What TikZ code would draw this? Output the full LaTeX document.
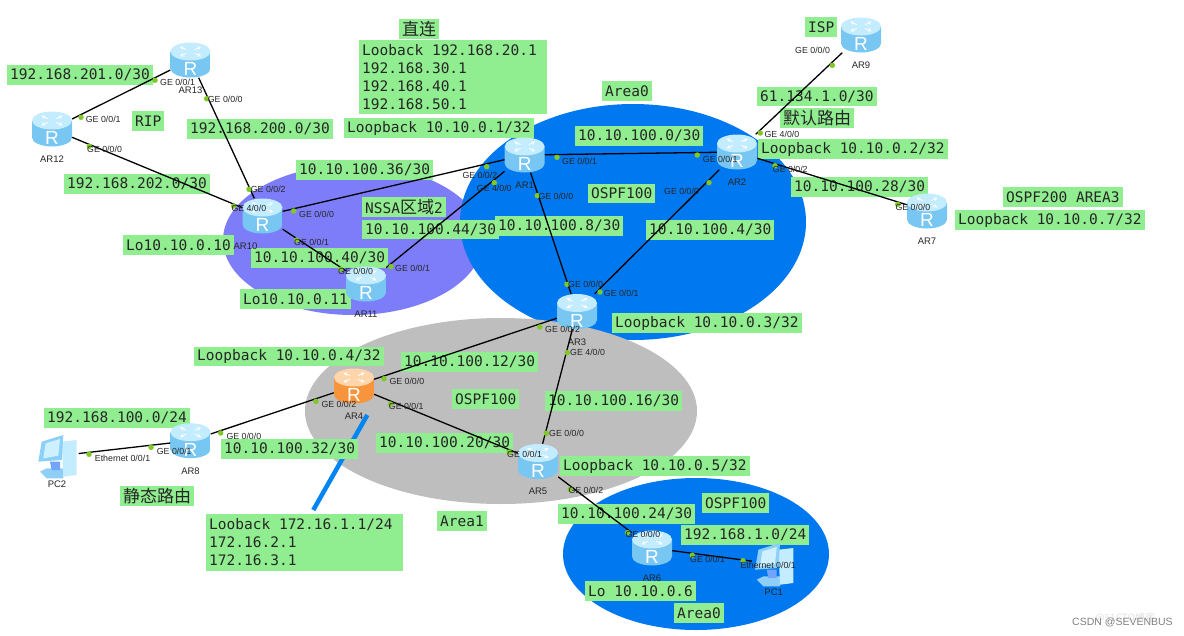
\documentclass[tikz,border=0pt]{standalone}
\usepackage{fontspec}
\setmainfont{Liberation Sans}
\newfontfamily\monofam{DejaVu Sans Mono}
\newfontfamily\cjk{Noto Sans CJK SC}
\definecolor{tagbg}{HTML}{90EE90}
\definecolor{areablue}{HTML}{0078F0}
\definecolor{areapurple}{HTML}{7D7DFA}
\definecolor{areagray}{HTML}{BEBEBE}
\definecolor{portdot}{HTML}{7FC828}
\definecolor{blueside}{HTML}{78C6F2}
\definecolor{bluemid}{HTML}{CBEFFF}
\definecolor{bluetop}{HTML}{C3ECFF}
\definecolor{orangeside}{HTML}{F8953C}
\definecolor{orangemid}{HTML}{FFD09B}
\definecolor{orangetop}{HTML}{FFD5AC}
\definecolor{pcbase}{HTML}{8FCFF7}
\definecolor{pctower}{HTML}{C4ECFF}
\definecolor{pcframe}{HTML}{8CD0FA}
\definecolor{pcscreen}{HTML}{CFF1FF}
% --- cylinder of a router, args: x,y / side / middle / top colour
\newcommand{\routerdraw}[4]{
\begin{scope}[shift={(#1)},x=1pt,y=-1pt]
\shade[left color=#2,middle color=#3,right color=#2] (-20,-8.5) -- (-20,8.5) arc[start angle=180,end angle=360,x radius=20pt,y radius=9pt] -- (20,-8.5) -- cycle;
\fill[#4] (0,-8.5) ellipse [x radius=20pt,y radius=9pt];
\foreach \ang in {45,135,225,315}{
\draw[white,line width=0.8pt,->,>=stealth] ({6*cos(\ang)},{-8.5+2.7*sin(\ang)}) -- ({15*cos(\ang)},{-8.5+6.8*sin(\ang)});
}
\end{scope}
}
\newcommand{\bluerouter}[1]{\routerdraw{#1}{blueside}{bluemid}{bluetop}}
\newcommand{\pcdraw}[1]{
\begin{scope}[shift={(#1)},x=1pt,y=1pt]
\fill[pcbase] (-17,-15.7) -- (-10.3,-12.3) -- (6.3,-12.3) -- (6.3,-22.3) -- (-10.3,-22.3) -- cycle;
\fill[pcbase!80!blue] (-7,-5.7) -- (3,-5.7) -- (3,-14) -- (-5.3,-14) -- cycle;
\fill[pctower] (4.7,14.3) -- (19.7,16) -- (19.7,-19) -- (6.3,-20.7) -- cycle;
\fill[pcframe] (-18.7,-5.7) -- (-15.3,14.3) -- (6.3,21) -- (4.7,-4) -- cycle;
\fill[pcscreen] (-13.7,-2.3) -- (-11.3,12.7) -- (3,17) -- (1.3,0.3) -- cycle;
\end{scope}
}
\tikzset{
tag/.style={fill=tagbg,anchor=west,font=\monofam\fontsize{14.5}{18}\selectfont,inner xsep=3pt,inner ysep=0pt,minimum height=19.5pt,align=left,text=black!85},
router/.style={inner sep=0pt,text=white,font=\fontsize{19}{19}\selectfont,text height=31pt,text depth=0pt,minimum width=40pt,minimum height=35pt},
pcbox/.style={inner sep=0pt,minimum width=43pt,minimum height=42pt},
devname/.style={font=\fontsize{9.5}{10}\selectfont,inner sep=0pt,label distance=9pt,text=black!85},
link/.style={line width=1.3pt,black},
dot/.style={circle,fill=portdot,inner sep=0pt,minimum size=5.5pt},
porttag/.style={font=\fontsize{8.8}{9}\selectfont,anchor=west,inner sep=0pt,text=black!85}
}
\begin{document}
\begin{tikzpicture}[x=1pt,y=-1pt]
\useasboundingbox (0,0) rectangle (1184,635);
% --- areas
\fill[areapurple] (353,240) ellipse [x radius=130pt,y radius=75pt];
\fill[areablue] (633,222) ellipse [x radius=173pt,y radius=118pt];
\fill[areagray] (501,411) ellipse [x radius=196pt,y radius=93pt];
\fill[areablue] (696,554) ellipse [x radius=133pt,y radius=76pt];
% --- loopback bar of AR4
\coordinate (lo4top) at (367.3,415);
\coordinate (lo4end) at (313.3,510);
\draw[line width=4.5pt,color=areablue!90!cyan] (lo4top) -- (lo4end);
% --- green address tags
\node[tag] (tdirect) at (399,29) {\cjk\fontsize{17}{18}\selectfont 直连};
\node[tag,minimum height=74pt] (tlobig) at (359,77) {\makebox[182pt][l]{Looback 192.168.20.1}\\192.168.30.1\\192.168.40.1\\192.168.50.1};
\node[tag] (tnet201) at (7,75) {192.168.201.0/30};
\node[tag] (trip) at (132,121) {RIP};
\node[tag] (tnet200) at (187,129) {192.168.200.0/30};
\node[tag] (tlo1) at (344,128) {Loopback 10.10.0.1/32};
\node[tag] (tnet202) at (64,184) {192.168.202.0/30};
\node[tag] (tnet36) at (296,170) {10.10.100.36/30};
\node[tag] (tnssa) at (362,207) {NSSA{\cjk\fontsize{17}{18}\selectfont 区域}2};
\node[tag] (tnet44) at (362,229.5) {10.10.100.44/30};
\node[tag] (tlo10) at (123,245) {Lo10.10.0.10};
\node[tag] (tnet40) at (251,258) {10.10.100.40/30};
\node[tag] (tlo11) at (240,299) {Lo10.10.0.11};
\node[tag] (tarea0) at (602,91) {Area0};
\node[tag] (tnet0) at (575,136) {10.10.100.0/30};
\node[tag] (tospf) at (588,193.5) {OSPF100};
\node[tag] (tnet8) at (495,226) {10.10.100.8/30};
\node[tag] (tnet4) at (646,230) {10.10.100.4/30};
\node[tag] (tisp) at (805,27) {ISP};
\node[tag] (tnet61) at (757,96.5) {61.134.1.0/30};
\node[tag] (tdefault) at (780,118) {\cjk\fontsize{17}{18}\selectfont 默认路由};
\node[tag] (tlo2) at (758,149) {Loopback 10.10.0.2/32};
\node[tag] (tnet28) at (791,187) {10.10.100.28/30};
\node[tag] (tospf200) at (1003,197) {OSPF200 AREA3};
\node[tag] (tlo7) at (955,220) {Loopback 10.10.0.7/32};
\node[tag] (tlo4) at (194,356.5) {Loopback 10.10.0.4/32};
\node[tag] (tnet12) at (401,362) {10.10.100.12/30};
\node[tag] (tospfb) at (452,399) {OSPF100};
\node[tag] (tnet100) at (44,418) {192.168.100.0/24};
\node[tag] (tnet32) at (221,449) {10.10.100.32/30};
\node[tag] (tnet20) at (376,443) {10.10.100.20/30};
\node[tag] (tstatic) at (120,496) {\cjk\fontsize{17}{18}\selectfont 静态路由};
\node[tag,minimum height=56.5pt] (tlo172) at (206,542.5) {\makebox[191pt][l]{Looback 172.16.1.1/24}\\172.16.2.1\\172.16.3.1};
\node[tag] (tarea1) at (437,521) {Area1};
\node[tag] (tlo3) at (612,323) {Loopback 10.10.0.3/32};
\node[tag] (tnet16) at (545,401) {10.10.100.16/30};
\node[tag] (tlo5) at (560,466) {Loopback 10.10.0.5/32};
\node[tag] (tospfc) at (702,503) {OSPF100};
\node[tag] (tnet24) at (558,514) {10.10.100.24/30};
\node[tag] (tnet1) at (681,535) {192.168.1.0/24};
\node[tag] (tlo6) at (585,591) {Lo 10.10.0.6};
\node[tag] (tarea0b) at (674,613) {Area0};
% --- routers and PCs
\bluerouter{190.5,60}
\node[router,label={[devname]below:AR13}] (AR13) at (190.5,60) {R};
\bluerouter{52,129}
\node[router,label={[devname]below:AR12}] (AR12) at (52,129) {R};
\bluerouter{262.5,216}
\node[router,label={[devname,xshift=-17pt]below:AR10}] (AR10) at (262.5,216) {R};
\bluerouter{366,284}
\node[router,label={[devname]below:AR11}] (AR11) at (366,284) {R};
\bluerouter{524.7,155}
\node[router,label={[devname]below:AR1}] (AR1) at (524.7,155) {R};
\bluerouter{737,152}
\node[router,label={[devname]below:AR2}] (AR2) at (737,152) {R};
\bluerouter{861,35}
\node[router,label={[devname]below:AR9}] (AR9) at (861,35) {R};
\bluerouter{927,211}
\node[router,label={[devname]below:AR7}] (AR7) at (927,211) {R};
\bluerouter{577,311.5}
\node[router,label={[devname]below:AR3}] (AR3) at (577,311.5) {R};
\routerdraw{354,386}{orangeside}{orangemid}{orangetop}
\node[router,label={[devname]below:AR4}] (AR4) at (354,386) {R};
\bluerouter{190.5,440.7}
\node[router,label={[devname]below:AR8}] (AR8) at (190.5,440.7) {R};
\bluerouter{538,461.5}
\node[router,label={[devname]below:AR5}] (AR5) at (538,461.5) {R};
\bluerouter{652,548}
\node[router,label={[devname]below:AR6}] (AR6) at (652,548) {R};
\pcdraw{57,456}
\node[pcbox,label={[devname,label distance=3pt]below:PC2}] (PC2) at (57,456) {};
\pcdraw{773.7,564}
\node[pcbox,label={[devname,label distance=3pt]below:PC1}] (PC1) at (773.7,564) {};
% --- links
\foreach \a/\b in {AR12/AR13,AR12/AR10,AR13/AR10,AR10/AR1,AR10/AR11,AR11/AR1,AR1/AR2,AR1/AR3,AR2/AR3,AR2/AR9,AR2/AR7,AR3/AR4,AR3/AR5,AR4/AR8,AR4/AR5,AR8/PC2,AR5/AR6,AR6/PC1}{
\draw[link] (\a) -- (\b);
}
% --- port dots and port names: dot x/y, text x/y, text
\foreach \dx/\dy/\tx/\ty/\ptxt [count=\i] in {
155/80.3/160/82.7/{GE 0/0/1},206.7/98.7/207.7/99.3/{GE 0/0/0},
81/117.3/85.7/119.3/{GE 0/0/1},89.3/146.3/87/149/{GE 0/0/0},
249/189.3/250.7/189.3/{GE 0/0/2},233.7/206/231.3/208.7/{GE 4/0/0},
293.7/211/299/214.3/{GE 0/0/0},296.7/240/294/242.7/{GE 0/0/1},
340.7/269.3/338/271.7/{GE 0/0/0},391/266.7/395/268.3/{GE 0/0/1},
486.7/166.7/462.3/175.7/{GE 0/0/2},494.3/182.7/476.7/188.7/{GE 4/0/0},
557/157.3/562/161.7/{GE 0/0/1},537.3/195.7/538.3/196.3/{GE 0/0/0},
697.3/155/702.7/159.3/{GE 0/0/1},709/182.7/664/191.3/{GE 0/0/0},
760.3/133/764.3/134.3/{GE 4/0/0},775/165.7/772.7/169.7/{GE 0/0/2},
832.3/65.3/795/50.7/{GE 0/0/0},897.7/204.3/895.3/207.7/{GE 0/0/0},
567/284.3/568/284.7/{GE 0/0/0},600/292/603.7/293/{GE 0/0/1},
539.7/327/545/329.7/{GE 0/0/2},567.3/352.7/570/352.7/{GE 4/0/0},
384/378.7/389.3/381.7/{GE 0/0/0},390.7/404/388.7/406.7/{GE 0/0/1},
316/401.3/321.3/404/{GE 0/0/2},220.7/433/226.3/436.3/{GE 0/0/0},
151/447.3/156.7/451.3/{GE 0/0/1},89/454.3/94.7/458/{Ethernet 0/0/1},
546.3/433.3/549/433.7/{GE 0/0/0},509.3/452/507/454.7/{GE 0/0/1},
570.3/489.3/568.3/490.3/{GE 0/0/2},627.7/532.7/625.3/534/{GE 0/0/0},
692.3/555.3/690/559.3/{GE 0/0/1},743/560.7/740.3/565.7/{Ethernet 0/0/1}}{
\node[dot] (d\i) at (\dx,\dy) {};
\node[porttag] (p\i) at (\tx,\ty) {\ptxt};
}
% --- watermark
\node[font=\cjk\fontsize{10}{10}\selectfont,text=black!12,inner sep=0pt,anchor=west] (mark51) at (1095,618) {@51CTO博客};
\node[font=\fontsize{10.5}{11}\selectfont,text=black!50,inner sep=0pt,anchor=west] (markcsdn) at (1072,622.5) {CSDN @SEVENBUS};
\end{tikzpicture}
\end{document}
